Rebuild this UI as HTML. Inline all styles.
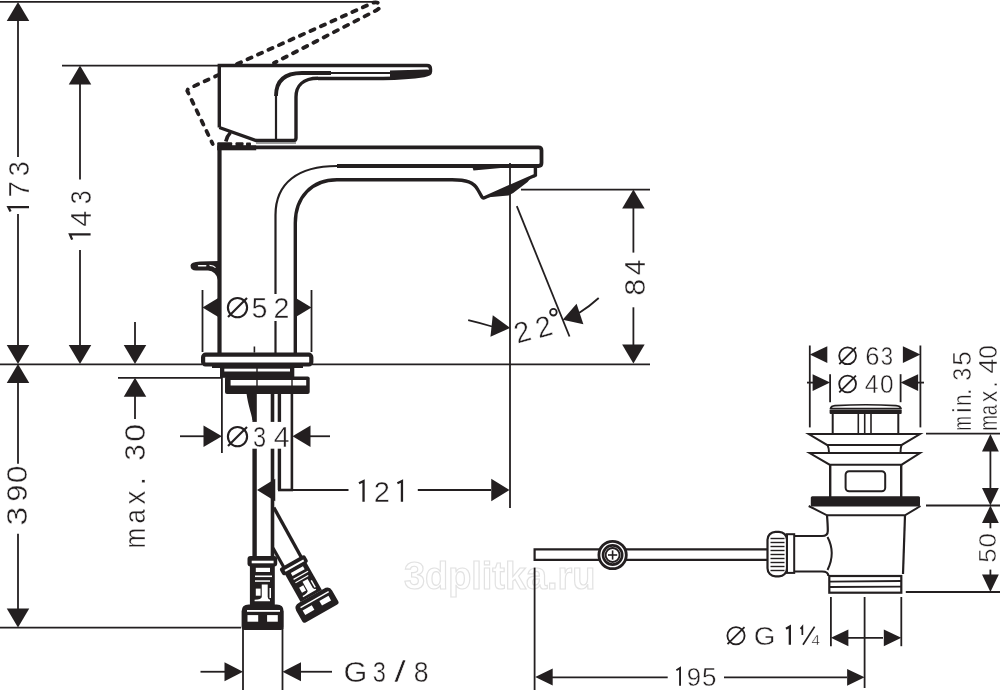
<!DOCTYPE html>
<html><head><meta charset="utf-8"><style>
html,body{margin:0;padding:0;background:#fff;}
svg{display:block;will-change:transform;}
text{font-family:"Liberation Sans",sans-serif;fill:#231f20;stroke:#fff;stroke-width:0.45px;}
</style></head><body>
<svg width="1000" height="690" viewBox="0 0 1000 690" stroke="#231f20" fill="none" stroke-linecap="butt">
<rect width="1000" height="690" fill="#fff" stroke="none"/>
<text x="404" y="589.4" font-size="39.5" textLength="191.5" lengthAdjust="spacingAndGlyphs" style="font-weight:bold;fill:none;stroke:#e2e2e2;stroke-width:1.2px">3dplitka.ru</text>
<line x1="0" y1="1.8" x2="376" y2="1.8" stroke-width="1.8"/>
<line x1="62" y1="65.6" x2="219" y2="65.6" stroke-width="1.8"/>
<line x1="0" y1="364.3" x2="202" y2="364.3" stroke-width="1.8"/>
<line x1="312" y1="364.3" x2="650" y2="364.3" stroke-width="1.8"/>
<line x1="118" y1="377.8" x2="221" y2="377.8" stroke-width="1.8"/>
<line x1="0" y1="627.6" x2="241" y2="627.6" stroke-width="1.8"/>
<line x1="521" y1="189.6" x2="650" y2="189.6" stroke-width="1.8"/>
<line x1="18" y1="20" x2="18" y2="157" stroke-width="1.8"/>
<line x1="18" y1="214" x2="18" y2="346" stroke-width="1.8"/>
<polygon points="18,2 6.75,21 29.25,21" stroke="none" fill="#231f20"/>
<polygon points="18,364 6.75,345 29.25,345" stroke="none" fill="#231f20"/>
<polygon points="18,364 6.75,383 29.25,383" stroke="none" fill="#231f20"/>
<line x1="18" y1="383" x2="18" y2="463.7" stroke-width="1.8"/>
<line x1="18" y1="533.7" x2="18" y2="610" stroke-width="1.8"/>
<polygon points="18,627.6 6.75,608.6 29.25,608.6" stroke="none" fill="#231f20"/>
<g transform="translate(29,211.5) rotate(-90)"><path d="M4.35 0 V-20.64 L0 -18.44" stroke-width="2.3" stroke-linejoin="miter"/></g>
<g transform="translate(29,189.25) rotate(-90) scale(0.99,1)"><text x="-8.36" y="0" font-size="30">7</text></g>
<g transform="translate(29,168.95) rotate(-90) scale(0.89,1)"><text x="-8.25" y="0" font-size="30">3</text></g>
<g transform="translate(26.9,516.4) rotate(-90) scale(1.18,1)"><text x="-7.98" y="0" font-size="29">3</text></g>
<g transform="translate(26.9,493.1) rotate(-90) scale(1.06,1)"><text x="-8.06" y="0" font-size="29">9</text></g>
<g transform="translate(26.9,474.35) rotate(-90) scale(1.1,1)"><text x="-8.06" y="0" font-size="29">0</text></g>
<line x1="80" y1="84" x2="80" y2="179.5" stroke-width="1.8"/>
<line x1="80" y1="250" x2="80" y2="346" stroke-width="1.8"/>
<polygon points="80,65.6 68.75,84.6 91.25,84.6" stroke="none" fill="#231f20"/>
<polygon points="80,364 68.75,345 91.25,345" stroke="none" fill="#231f20"/>
<g transform="translate(90.6,239.6) rotate(-90)"><path d="M5.15 0 V-20.64 L0 -18.44" stroke-width="2.3" stroke-linejoin="miter"/></g>
<g transform="translate(90.6,218.75) rotate(-90) scale(0.96,1)"><text x="-8.25" y="0" font-size="30">4</text></g>
<g transform="translate(90.6,197.5) rotate(-90) scale(0.83,1)"><text x="-8.25" y="0" font-size="30">3</text></g>
<line x1="135" y1="322" x2="135" y2="346" stroke-width="1.8"/>
<polygon points="135,364 123.75,345 146.25,345" stroke="none" fill="#231f20"/>
<polygon points="135,377.8 123.75,396.8 146.25,396.8" stroke="none" fill="#231f20"/>
<line x1="135" y1="396" x2="135" y2="419" stroke-width="1.8"/>
<g transform="translate(144.9,538.2) rotate(-90) scale(0.85,1)"><text x="-12.09" y="0" font-size="29">m</text></g>
<g transform="translate(144.9,515.9) rotate(-90) scale(0.89,1)"><text x="-8.68" y="0" font-size="29">a</text></g>
<g transform="translate(144.9,497.6) rotate(-90) scale(0.95,1)"><text x="-7.26" y="0" font-size="29">x</text></g>
<g transform="translate(144.9,481.25) rotate(-90) scale(1,1)"><text x="-4.03" y="0" font-size="29">.</text></g>
<g transform="translate(144.9,452.5) rotate(-90) scale(1.03,1)"><text x="-7.98" y="0" font-size="29">3</text></g>
<g transform="translate(144.9,432.7) rotate(-90) scale(1.11,1)"><text x="-8.06" y="0" font-size="29">0</text></g>
<polygon points="633.4,189.6 622.15,208.6 644.65,208.6" stroke="none" fill="#231f20"/>
<line x1="633.4" y1="208" x2="633.4" y2="252.6" stroke-width="1.8"/>
<line x1="633.4" y1="307.3" x2="633.4" y2="346" stroke-width="1.8"/>
<polygon points="633.4,363.6 622.15,344.6 644.65,344.6" stroke="none" fill="#231f20"/>
<g transform="translate(645,287.15) rotate(-90) scale(1.02,1)"><text x="-8.34" y="0" font-size="30">8</text></g>
<g transform="translate(645,267.55) rotate(-90) scale(0.95,1)"><text x="-8.25" y="0" font-size="30">4</text></g>
<line x1="510" y1="163" x2="510" y2="508" stroke-width="1.8"/>
<line x1="516.8" y1="206.2" x2="569.5" y2="336.5" stroke-width="1.8"/>
<path d="M468.2 320.2 Q480 323 492 326.5" stroke-width="1.8" fill="none" />
<polygon points="510.2,328 490.45,336.8 492.76,315.22" stroke="none" fill="#231f20"/>
<path d="M598.7 298 Q590 306 579 313" stroke-width="1.8" fill="none" />
<polygon points="562.7,319.7 576.59,303.7 583.38,324.31" stroke="none" fill="#231f20"/>
<g transform="translate(522.2,331.7) rotate(-16)"><text x="-8.06" y="10.12" font-size="29">2</text></g>
<g transform="translate(543.6,326.5) rotate(-16)"><text x="-8.06" y="10.12" font-size="29">2</text></g>
<circle cx="553.4" cy="312.2" r="3.3" stroke-width="1.8" fill="none"/>
<line x1="202.5" y1="290" x2="202.5" y2="352" stroke-width="1.8"/>
<line x1="311.5" y1="290" x2="311.5" y2="352" stroke-width="1.8"/>
<polygon points="202.5,307.5 219.5,297.2 219.5,317.8" stroke="none" fill="#231f20"/>
<polygon points="311.5,307.5 294.5,297.2 294.5,317.8" stroke="none" fill="#231f20"/>
<line x1="221.9" y1="377" x2="221.9" y2="453" stroke-width="1.8"/>
<line x1="180" y1="436.25" x2="204" y2="436.25" stroke-width="1.8"/>
<polygon points="221.9,436.25 203.5,425.6 203.5,446.9" stroke="none" fill="#231f20"/>
<polygon points="292.5,436.25 310.5,425.6 310.5,446.9" stroke="none" fill="#231f20"/>
<line x1="310" y1="436.25" x2="330" y2="436.25" stroke-width="1.8"/>
<polygon points="257,490 275.25,478.75 275.25,501.25" stroke="none" fill="#231f20"/>
<line x1="292" y1="490" x2="348.5" y2="490" stroke-width="1.8"/>
<line x1="417.8" y1="490" x2="491" y2="490" stroke-width="1.8"/>
<polygon points="509.5,490 491.25,478.75 491.25,501.25" stroke="none" fill="#231f20"/>
<g transform="translate(359,501.7)"><path d="M4.55 0 V-20.64 L0 -18.44" stroke-width="2.3" stroke-linejoin="miter"/></g>
<g transform="translate(381.8,501.7) scale(0.97,1)"><text x="-8.34" y="0" font-size="30">2</text></g>
<g transform="translate(397.4,501.7)"><path d="M4.55 0 V-20.64 L0 -18.44" stroke-width="2.3" stroke-linejoin="miter"/></g>
<line x1="200.5" y1="671.75" x2="225" y2="671.75" stroke-width="1.8"/>
<polygon points="243,671.75 224.5,662.25 224.5,681.25" stroke="none" fill="#231f20"/>
<polygon points="282.5,671.75 301,662.25 301,681.25" stroke="none" fill="#231f20"/>
<line x1="301" y1="671.75" x2="332" y2="671.75" stroke-width="1.8"/>
<line x1="243" y1="628" x2="243" y2="690" stroke-width="1.8"/>
<line x1="282.5" y1="628" x2="282.5" y2="690" stroke-width="1.8"/>
<g transform="translate(355,682) scale(1.02,1)"><text x="-11.3" y="0" font-size="30">G</text></g>
<g transform="translate(379.38,682) scale(0.79,1)"><text x="-8.25" y="0" font-size="30">3</text></g>
<g transform="translate(400,682) scale(1.4,1)"><text x="-4.17" y="0" font-size="30">/</text></g>
<g transform="translate(421.25,682) scale(0.89,1)"><text x="-8.34" y="0" font-size="30">8</text></g>
<path d="M237 64 L372.5 3 Q377 1.2 379.3 4 Q381 7.5 377 10 L274 63" stroke-width="3.8" fill="none" stroke-dasharray="4.4 7.1" stroke-linecap="round"/>
<path d="M219 74.6 L189 88.5 Q186.5 90 187.8 92 L212.7 144" stroke-width="3.8" fill="none" stroke-dasharray="4.4 7.1" stroke-linecap="round"/>
<path d="M219.3 127.5 V65.5 H427 Q430.5 65.5 430.5 69 V71.5 Q430.5 74.5 424 75.5 C411 77.5 398 78.3 383 78.5 L318 78.5" stroke-width="3.4" fill="none" />
<path d="M219.3 127.5 L256 140.5 H293.5 Q296 140.5 296 138 V97 C296 86 303 78.3 318 78.3" stroke-width="3.4" fill="none" />
<path d="M276 140.5 V92" stroke-width="2.2" fill="none" />
<path d="M276 96 C276 81 284 73 302 73 H331" stroke-width="3.8" fill="none" />
<path d="M329 73 H392" stroke-width="2.2" fill="none" />
<path d="M390 70.6 L427 69.4 Q430.5 69.8 430.5 72 Q430 75.5 424 76.5 C412 78.3 400 78.8 390 79 Z" stroke-width="0" fill="#231f20" stroke="none"/>
<path d="M225.8 141.5 Q227 136 230.5 132.5" stroke-width="3.6" fill="none" />
<rect x="256" y="142.2" width="40" height="1.6" fill="#888" stroke="none"/>
<rect x="217.2" y="145.4" width="39" height="4.9" fill="#231f20" stroke="none"/>
<rect x="217.2" y="142.3" width="15" height="4" rx="1" fill="#231f20" stroke="none"/>
<rect x="235.5" y="142.3" width="8" height="4" rx="1" fill="#231f20" stroke="none"/>
<rect x="246" y="142.6" width="5" height="3.6" rx="1" fill="#231f20" stroke="none"/>
<path d="M219.5 147.3 H538.5 Q541.5 147.3 541.5 150.3 V163 Q541.5 166 538.5 166 H337" stroke-width="3.8" fill="none" />
<path d="M219.5 146 V353" stroke-width="4.2" fill="none" />
<path d="M275.5 353 V215 C275.5 183 298 166 337 166" stroke-width="2.2" fill="none" />
<path d="M295.3 353 V223 C295.3 197 312 179.7 337 179.7 H452 C466 179.7 474 182 478 190 L482 197 Q483 198.5 485 197.5 L535.4 175.2 V167" stroke-width="3.4" fill="none" />
<path d="M483 197.8 L535.4 175 V177.2 L530.8 178 L527.6 182 L513.2 193 L508.4 195.6 L491.6 197 Z" stroke-width="0" fill="#231f20" stroke="none"/>
<polygon points="472.5,167.5 473.5,170.6 506,167.6 506,166.5" stroke="none" fill="#231f20"/>
<path d="M219 261 L200 261.5 Q190.5 262 190.5 265.5 Q190.5 270.5 196 270.5 L208 270.5 Q216 271 218 280 L219.5 280 Z" stroke-width="0" fill="#231f20" stroke="none"/>
<rect x="197.8" y="264.9" width="8.7" height="1.7" rx="0.8" fill="#fff" stroke="none"/>
<path d="M209.5 265.3 Q213.5 265.3 215.5 267.6" stroke-width="1.2" fill="none" stroke="#fff"/>
<line x1="254.4" y1="346.5" x2="254.4" y2="352.6" stroke-width="1.6"/>
<rect x="203.1" y="354.7" width="108.2" height="9.8" rx="2.5" stroke-width="4.2" fill="#fff"/>
<rect x="212" y="365" width="91" height="3" fill="#231f20" stroke="none"/>
<rect x="220" y="367.3" width="74.3" height="10.5" fill="#231f20" stroke="none"/>
<rect x="224.3" y="368.7" width="65.7" height="2.8" fill="#fff" stroke="none"/>
<rect x="225" y="376.4" width="84.7" height="17.6" rx="2" fill="#231f20" stroke="none"/>
<rect x="230.6" y="380" width="75.6" height="5.5" fill="#fff" stroke="none"/>
<line x1="257" y1="367" x2="257" y2="386" stroke-width="1.4"/>
<line x1="292" y1="379" x2="292" y2="386" stroke-width="1.4"/>
<path d="M246.5 393.5 C248 405 251 412 252.5 420 L256 420 V393.5 Z" stroke-width="0" fill="#231f20" stroke="none"/>
<line x1="254.6" y1="394" x2="254.6" y2="557" stroke-width="4.4"/>
<line x1="272.5" y1="394" x2="272.5" y2="557" stroke-width="3.6"/>
<line x1="279.4" y1="394" x2="279.4" y2="490" stroke-width="3.4"/>
<line x1="291.9" y1="394" x2="291.9" y2="490" stroke-width="2.6"/>
<line x1="278" y1="490" x2="293" y2="490" stroke-width="2.6"/>
<line x1="273.8" y1="507.5" x2="305" y2="564" stroke-width="3.4"/>
<line x1="273" y1="548" x2="285.4" y2="570" stroke-width="3.2"/>
<g transform="translate(263,630)"><path d="M-21.4 -18.4 Q-21.4 -25.4 -14.4 -25.4 H13.7 Q20.7 -25.4 20.7 -18.4 V-3 Q20.7 0 17.7 0 H-18.4 Q-21.4 0 -21.4 -3 Z" fill="#231f20" stroke="none"/><rect x="-16" y="-20" width="33" height="1.8" fill="#fff" stroke="none"/><rect x="-15.5" y="-14.9" width="10.7" height="6.6" fill="#fff" stroke="none"/><rect x="4.1" y="-14.9" width="10.7" height="6.6" fill="#fff" stroke="none"/><rect x="-13.1" y="-64" width="24.9" height="39" fill="#231f20" stroke="none"/><rect x="-7.2" y="-62.2" width="14.2" height="4.2" fill="#fff" stroke="none"/><rect x="-8" y="-54.5" width="17" height="1.6" fill="#fff" stroke="none"/><rect x="-8" y="-49.7" width="15" height="1.5" fill="#fff" stroke="none"/><path d="M-1.25 -45.6 H4.7 V-33 Q5 -30.5 7 -30.3 V-28.8 H-8.4 V-30.3 Q-1.5 -30.5 -1.25 -33 Z" fill="#fff" stroke="none"/><rect x="-7.2" y="-41.4" width="4.8" height="7.1" fill="#fff" stroke="none"/><rect x="6.5" y="-42" width="1.5" height="10" fill="#fff" stroke="none"/><rect x="-15.5" y="-74" width="29.7" height="10.6" rx="3" fill="#231f20" stroke="none"/><rect x="-11.3" y="-69.3" width="21.9" height="2.6" fill="#fff" stroke="none"/></g>
<g transform="translate(321.8,613.4) rotate(-29.5) scale(0.98,0.81)"><path d="M-21.4 -18.4 Q-21.4 -25.4 -14.4 -25.4 H13.7 Q20.7 -25.4 20.7 -18.4 V-3 Q20.7 0 17.7 0 H-18.4 Q-21.4 0 -21.4 -3 Z" fill="#231f20" stroke="none"/><rect x="-16" y="-20" width="33" height="1.8" fill="#fff" stroke="none"/><rect x="-15.5" y="-14.9" width="10.7" height="6.6" fill="#fff" stroke="none"/><rect x="4.1" y="-14.9" width="10.7" height="6.6" fill="#fff" stroke="none"/><rect x="-13.1" y="-64" width="24.9" height="39" fill="#231f20" stroke="none"/><rect x="-7.2" y="-62.2" width="14.2" height="4.2" fill="#fff" stroke="none"/><rect x="-8" y="-54.5" width="17" height="1.6" fill="#fff" stroke="none"/><rect x="-8" y="-49.7" width="15" height="1.5" fill="#fff" stroke="none"/><path d="M-1.25 -45.6 H4.7 V-33 Q5 -30.5 7 -30.3 V-28.8 H-8.4 V-30.3 Q-1.5 -30.5 -1.25 -33 Z" fill="#fff" stroke="none"/><rect x="-7.2" y="-41.4" width="4.8" height="7.1" fill="#fff" stroke="none"/><rect x="6.5" y="-42" width="1.5" height="10" fill="#fff" stroke="none"/><rect x="-15.5" y="-74" width="29.7" height="10.6" rx="3" fill="#231f20" stroke="none"/><rect x="-11.3" y="-69.3" width="21.9" height="2.6" fill="#fff" stroke="none"/></g>
<rect x="224" y="294" width="67" height="27" fill="#fff" stroke="none"/>
<circle cx="237.5" cy="307.6" r="9.6" stroke-width="2.1" fill="none"/>
<line x1="228" y1="317.1" x2="247" y2="298.1" stroke-width="2.1"/>
<g transform="translate(259.5,318.1) scale(0.97,1)"><text x="-8.17" y="0" font-size="29.5">5</text></g>
<g transform="translate(281.55,318.1) scale(0.97,1)"><text x="-8.2" y="0" font-size="29.5">2</text></g>
<rect x="223.8" y="421.9" width="65.6" height="26.8" fill="#fff" stroke="none"/>
<circle cx="237.5" cy="436.6" r="9.6" stroke-width="2.1" fill="none"/>
<line x1="228" y1="446.1" x2="247" y2="427.1" stroke-width="2.1"/>
<g transform="translate(259.38,446.9) scale(0.8,1)"><text x="-8.12" y="0" font-size="29.5">3</text></g>
<g transform="translate(281.57,446.9) scale(0.97,1)"><text x="-8.11" y="0" font-size="29.5">4</text></g>
<line x1="809.8" y1="345.5" x2="809.8" y2="427.4" stroke-width="1.8"/>
<line x1="920.4" y1="345.5" x2="920.4" y2="427.4" stroke-width="1.8"/>
<polygon points="809.8,354.6 827.3,346.2 827.3,363" stroke="none" fill="#231f20"/>
<polygon points="920.4,354.6 902.9,346.2 902.9,363" stroke="none" fill="#231f20"/>
<circle cx="847.6" cy="355.8" r="8.4" stroke-width="1.8" fill="none"/>
<line x1="839.28" y1="364.12" x2="855.92" y2="347.48" stroke-width="1.8"/>
<g transform="translate(872.4,364.8) scale(1.01,1)"><text x="-7.15" y="0" font-size="25.4">6</text></g>
<g transform="translate(886.95,364.8) scale(0.87,1)"><text x="-6.99" y="0" font-size="25.4">3</text></g>
<line x1="830.1" y1="374.2" x2="830.1" y2="402.2" stroke-width="1.8"/>
<line x1="900.6" y1="374.2" x2="900.6" y2="402.2" stroke-width="1.8"/>
<line x1="807" y1="382.6" x2="813" y2="382.6" stroke-width="1.8"/>
<polygon points="830.1,382.6 812.6,374.2 812.6,391" stroke="none" fill="#231f20"/>
<polygon points="900.6,382.6 918.1,374.2 918.1,391" stroke="none" fill="#231f20"/>
<line x1="917" y1="382.6" x2="924" y2="382.6" stroke-width="1.8"/>
<circle cx="847.6" cy="384" r="8.4" stroke-width="1.8" fill="none"/>
<line x1="839.28" y1="392.32" x2="855.92" y2="375.68" stroke-width="1.8"/>
<g transform="translate(871.5,392.6) scale(0.98,1)"><text x="-6.98" y="0" font-size="25.4">4</text></g>
<g transform="translate(886.75,392.6) scale(0.96,1)"><text x="-7.06" y="0" font-size="25.4">0</text></g>
<path d="M830.5 408.5 Q831 406 835 405.6 Q866 403.8 896 405.6 Q900.5 406 901 408.5 Z" stroke-width="1.6" fill="#fff" />
<rect x="829.6" y="409.4" width="72.1" height="4.6" rx="1" fill="#231f20" stroke="none"/>
<line x1="832.7" y1="414" x2="832.7" y2="434" stroke-width="2"/>
<line x1="898.3" y1="414" x2="898.3" y2="434" stroke-width="2"/>
<line x1="858.3" y1="414" x2="858.3" y2="434" stroke-width="1.6"/>
<line x1="864.7" y1="414" x2="864.7" y2="434" stroke-width="1.6"/>
<line x1="871" y1="414" x2="871" y2="434" stroke-width="1.6"/>
<path d="M808.7 434 H920 L901.7 444.9 H827 Z" stroke-width="2" fill="#fff" />
<path d="M827.5 444.9 Q829 448 829 453 M901.5 444.9 Q900.5 448 900.5 453" stroke-width="2" fill="none" />
<path d="M809.6 453 H920 L901.7 464.7 H829.6 Z" stroke-width="2" fill="#fff" />
<line x1="830.2" y1="464.7" x2="830.2" y2="497.5" stroke-width="2.4"/>
<line x1="901.2" y1="464.7" x2="901.2" y2="497.5" stroke-width="2.4"/>
<rect x="845.6" y="471.3" width="39.6" height="20" rx="3.5" stroke-width="2" fill="none"/>
<rect x="810.8" y="496.3" width="109.2" height="10.2" rx="1.5" fill="#231f20" stroke="none"/>
<path d="M808.7 506 L827 515.3 H905 L920.5 506" stroke-width="2" fill="none" />
<path d="M827 515.3 Q827.8 525 827.8 531 Q827.8 536 822 536 H794.2" stroke-width="2.2" fill="none" />
<path d="M905 515.3 L903 574" stroke-width="2.2" fill="none" />
<path d="M827.5 537 Q836 553 827.5 570" stroke-width="2" fill="none" />
<path d="M794.2 571.5 H822 Q828.4 571.5 828.4 576" stroke-width="2.2" fill="none" />
<rect x="829.3" y="576" width="72" height="16.7" fill="none" stroke-width="2.2"/>
<line x1="829.3" y1="581.6" x2="901.3" y2="581" stroke-width="1.8"/>
<line x1="829.3" y1="587" x2="901.3" y2="586.6" stroke-width="1.8"/>
<rect x="767.5" y="531.8" width="19.5" height="44.5" rx="8" stroke-width="2.2" fill="#fff"/>
<line x1="770.5" y1="538.5" x2="784.5" y2="538.5" stroke-width="1.4"/>
<line x1="770.5" y1="542.5" x2="784.5" y2="542.5" stroke-width="1.4"/>
<line x1="770.5" y1="546.5" x2="784.5" y2="546.5" stroke-width="1.4"/>
<line x1="770.5" y1="550.5" x2="784.5" y2="550.5" stroke-width="1.4"/>
<line x1="770.5" y1="554.5" x2="784.5" y2="554.5" stroke-width="1.4"/>
<line x1="770.5" y1="558.5" x2="784.5" y2="558.5" stroke-width="1.4"/>
<line x1="770.5" y1="562.5" x2="784.5" y2="562.5" stroke-width="1.4"/>
<line x1="770.5" y1="566.5" x2="784.5" y2="566.5" stroke-width="1.4"/>
<line x1="770.5" y1="570.5" x2="784.5" y2="570.5" stroke-width="1.4"/>
<rect x="787" y="534.2" width="7.2" height="38.7" stroke-width="2" fill="#fff"/>
<path d="M767.5 549.4 H534.6 V559.8 H767.5" stroke-width="2.2" fill="none" />
<circle cx="612.6" cy="555" r="13.7" stroke-width="2.8" fill="#fff"/>
<circle cx="612.6" cy="555" r="9.6" stroke-width="2.6" fill="none"/>
<circle cx="612.6" cy="555" r="7" stroke-width="1.9" fill="none"/>
<line x1="608" y1="555" x2="617.2" y2="555" stroke-width="1.6"/>
<line x1="612.6" y1="550.4" x2="612.6" y2="559.6" stroke-width="1.6"/>
<line x1="534.6" y1="567.6" x2="534.6" y2="690" stroke-width="1.8"/>
<line x1="830.9" y1="597" x2="830.9" y2="646.2" stroke-width="1.8"/>
<line x1="864.6" y1="597" x2="864.6" y2="688" stroke-width="1.8"/>
<line x1="901.3" y1="597" x2="901.3" y2="646.2" stroke-width="1.8"/>
<polygon points="830.9,637.8 848.4,629.4 848.4,646.2" stroke="none" fill="#231f20"/>
<line x1="848" y1="637.8" x2="883" y2="637.8" stroke-width="1.8"/>
<polygon points="901.3,637.8 883.8,629.4 883.8,646.2" stroke="none" fill="#231f20"/>
<circle cx="736" cy="635.7" r="8.6" stroke-width="1.8" fill="none"/>
<line x1="727.49" y1="644.21" x2="744.51" y2="627.19" stroke-width="1.8"/>
<g transform="translate(764.3,644.8) scale(1.05,1)"><text x="-9.98" y="0" font-size="26.5">G</text></g>
<g transform="translate(786,644.8)"><path d="M3.85 0 V-18.23 L0 -16.03" stroke-width="2.3" stroke-linejoin="miter"/></g>
<g transform="translate(800.5,634.9)"><path d="M1.85 0 V-8.26 L0 -6.06" stroke-width="1.7" stroke-linejoin="miter"/></g>
<line x1="803" y1="644.8" x2="814.6" y2="626.6" stroke-width="1.7"/>
<g transform="translate(815.75,644.8) scale(1.03,1)"><text x="-4.07" y="0" font-size="14.8">4</text></g>
<polygon points="535.2,677 552.7,668.6 552.7,685.4" stroke="none" fill="#231f20"/>
<line x1="552" y1="677.3" x2="667.7" y2="677.3" stroke-width="1.8"/>
<line x1="724" y1="677.3" x2="847" y2="677.3" stroke-width="1.8"/>
<polygon points="864.6,677.3 847.1,668.9 847.1,685.7" stroke="none" fill="#231f20"/>
<g transform="translate(676.4,685.8)"><path d="M3.65 0 V-17.75 L0 -15.55" stroke-width="1.9" stroke-linejoin="miter"/></g>
<g transform="translate(693.95,685.8) scale(1,1)"><text x="-7.17" y="0" font-size="25.8">9</text></g>
<g transform="translate(709.15,685.8) scale(1.01,1)"><text x="-7.15" y="0" font-size="25.8">5</text></g>
<line x1="926" y1="433.6" x2="1000" y2="433.6" stroke-width="1.8"/>
<line x1="926" y1="505.5" x2="1000" y2="505.5" stroke-width="1.8"/>
<line x1="905.8" y1="592" x2="1000" y2="592" stroke-width="1.8"/>
<line x1="990.4" y1="451" x2="990.4" y2="488" stroke-width="1.8"/>
<polygon points="990.4,434 982,451.5 998.8,451.5" stroke="none" fill="#231f20"/>
<polygon points="990.4,505.5 982,488 998.8,488" stroke="none" fill="#231f20"/>
<polygon points="990.4,505.5 982,523 998.8,523" stroke="none" fill="#231f20"/>
<line x1="990.4" y1="522" x2="990.4" y2="528.3" stroke-width="1.8"/>
<line x1="990.4" y1="569.6" x2="990.4" y2="575" stroke-width="1.8"/>
<polygon points="990.4,592 982,574.5 998.8,574.5" stroke="none" fill="#231f20"/>
<g transform="translate(996.2,555.45) rotate(-90) scale(1.06,1)"><text x="-6.79" y="0" font-size="24.5">5</text></g>
<g transform="translate(996.2,540.2) rotate(-90) scale(1.06,1)"><text x="-6.81" y="0" font-size="24.5">0</text></g>
<g transform="translate(970.5,423.3) rotate(-90) scale(0.7,1)"><text x="-10.59" y="0" font-size="25.4">m</text></g>
<g transform="translate(970.5,410.25) rotate(-90) scale(1,1)"><text x="-2.82" y="0" font-size="25.4">i</text></g>
<g transform="translate(970.5,400.25) rotate(-90) scale(0.82,1)"><text x="-7.08" y="0" font-size="25.4">n</text></g>
<g transform="translate(970.5,391.65) rotate(-90) scale(1,1)"><text x="-3.53" y="0" font-size="25.4">.</text></g>
<g transform="translate(970.5,374.45) rotate(-90) scale(0.92,1)"><text x="-6.99" y="0" font-size="25.4">3</text></g>
<g transform="translate(970.5,358.6) rotate(-90) scale(1.03,1)"><text x="-7.04" y="0" font-size="25.4">5</text></g>
<g transform="translate(996.9,422.95) rotate(-90) scale(0.74,1)"><text x="-10.59" y="0" font-size="25.4">m</text></g>
<g transform="translate(996.9,409.55) rotate(-90) scale(0.74,1)"><text x="-7.6" y="0" font-size="25.4">a</text></g>
<g transform="translate(996.9,396.5) rotate(-90) scale(0.91,1)"><text x="-6.36" y="0" font-size="25.4">x</text></g>
<g transform="translate(996.9,384.4) rotate(-90) scale(1,1)"><text x="-3.53" y="0" font-size="25.4">.</text></g>
<g transform="translate(996.9,366.15) rotate(-90) scale(1.07,1)"><text x="-6.98" y="0" font-size="25.4">4</text></g>
<g transform="translate(996.9,352.05) rotate(-90) scale(0.96,1)"><text x="-7.06" y="0" font-size="25.4">0</text></g>
</svg></body></html>
